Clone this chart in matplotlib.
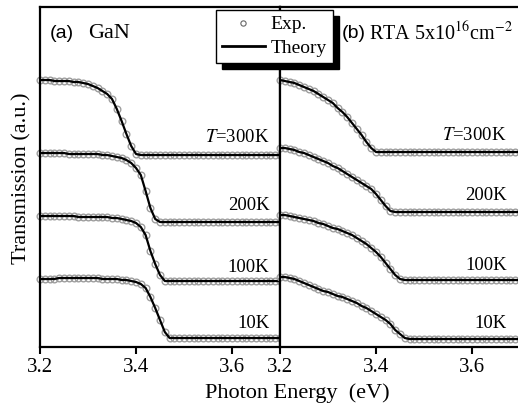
import numpy as np
import matplotlib.pyplot as plt
from matplotlib.lines import Line2D

plt.rcParams['font.family'] = 'Liberation Serif'
plt.rcParams['mathtext.fontset'] = 'stix'

# photon energy grid (eV), 3.20 ... 3.70
energy = np.round(np.arange(3.20, 3.705, 0.01), 2)

# (a) GaN transmission, offset per temperature
gan_300k = [26.7, 26.7, 26.7, 26.6, 26.6, 26.6, 26.6, 26.5, 26.5, 26.4, 26.3,
            26.1, 25.9, 25.6, 25.3, 24.8, 23.8, 22.6, 21.3, 20.1, 19.3] + [19.2] * 30
gan_200k = [19.4, 19.4, 19.4, 19.4, 19.4, 19.4, 19.3, 19.3, 19.3, 19.3, 19.3,
            19.3, 19.3, 19.2, 19.2, 19.1, 19.0, 18.9, 18.7, 18.4, 17.9, 17.2,
            15.6, 13.9, 12.8] + [12.5] * 26
gan_100k = [13.1, 13.1, 13.1, 13.1, 13.1, 13.1, 13.1, 13.1, 13.0, 13.0, 13.0,
            13.0, 13.0, 13.0, 13.0, 12.9, 12.9, 12.8, 12.7, 12.6, 12.4, 12.0,
            11.2, 9.6, 8.3, 7.2] + [6.6] * 25
gan_10k = [6.8, 6.8, 6.8, 6.8, 6.9, 6.9, 6.9, 6.9, 6.9, 6.9, 6.9, 6.9, 6.9,
           6.8, 6.8, 6.8, 6.8, 6.7, 6.7, 6.6, 6.5, 6.3, 5.9, 5.0, 3.9, 2.7,
           1.5] + [0.9] * 24

# (b) RTA 5x10^16 cm^-2
rta_300k = [26.7, 26.6, 26.5, 26.4, 26.2, 26.0, 25.8, 25.6, 25.3, 25.0, 24.7,
            24.4, 23.9, 23.5, 23.0, 22.4, 21.8, 21.2, 20.5, 19.9, 19.5] + [19.5] * 30
rta_200k = [19.9, 19.9, 19.8, 19.7, 19.5, 19.4, 19.2, 19.0, 18.8, 18.6, 18.4,
            18.1, 17.9, 17.6, 17.3, 17.0, 16.7, 16.4, 16.1, 15.8, 15.3, 14.7,
            14.1, 13.6] + [13.5] * 27
rta_100k = [13.2, 13.2, 13.1, 13.0, 12.9, 12.8, 12.7, 12.6, 12.4, 12.3, 12.1,
            11.9, 11.8, 11.6, 11.4, 11.2, 10.9, 10.6, 10.3, 9.9, 9.5, 9.0,
            8.4, 7.8, 7.2, 6.8] + [6.7] * 25
rta_10k = [7.0, 7.0, 6.9, 6.8, 6.6, 6.4, 6.2, 6.0, 5.8, 5.6, 5.5, 5.3, 5.1,
           5.0, 4.8, 4.6, 4.4, 4.1, 3.9, 3.6, 3.3, 3.0, 2.7, 2.3, 1.7, 1.3,
           0.9] + [0.8] * 24

temp_labels = ['$T$=300K', '200K', '100K', '10K']
gan_label_y = [20.5, 13.7, 7.5, 1.9]
rta_label_y = [20.7, 14.7, 7.7, 1.9]

W, H = 518, 411
fig = plt.figure(figsize=(W / 100, H / 100), dpi=100)
ax_a = fig.add_axes([40 / W, 64 / H, 240 / W, 340 / H])
ax_b = fig.add_axes([280 / W, 64 / H, 240 / W, 340 / H])

panels = [
    (ax_a, [gan_300k, gan_200k, gan_100k, gan_10k], gan_label_y, 3.678),
    (ax_b, [rta_300k, rta_200k, rta_100k, rta_10k], rta_label_y, 3.672),
]
for ax, curves, label_y, label_x in panels:
    for vals, lab, ly in zip(curves, temp_labels, label_y):
        ax.plot(energy, vals, 'o', ms=4.8, mfc='none', mec='0.62', mew=1.0,
                clip_on=False, zorder=2)
        ax.plot(energy, vals, '-', color='k', lw=1.6, zorder=3)
        ax.text(label_x, ly, lab, ha='right', va='baseline', fontsize=13.5)
    ax.set_xlim(3.2, 3.7)
    ax.set_ylim(0, 34)
    ax.set_xticks([3.2, 3.4, 3.6])
    ax.set_yticks([])
    ax.tick_params(axis='x', direction='out', length=5, width=1.5,
                   labelsize=15, pad=3)
    for s in ax.spines.values():
        s.set_linewidth(1.6)

# panel titles
fig.text(50 / W, 1 - 33 / H, '(a)', family='Liberation Sans', fontsize=14,
         va='center')
fig.text(88 / W, 1 - 33 / H, 'GaN', fontsize=16, va='center')
fig.text(342 / W, 1 - 33 / H, '(b)', family='Liberation Sans', fontsize=14,
         va='center')
fig.text(369 / W, 1 - 33 / H, 'RTA 5x10$^{16}$cm$^{-2}$', fontsize=14.5,
         va='center')

fig.text(297 / W, 1 - 393 / H, 'Photon Energy  (eV)', ha='center',
         va='center', fontsize=16)
fig.text(22 / W, 1 - 178 / H, 'Transmission (a.u.)', ha='center',
         va='center', rotation=90, fontsize=16)

handles = [Line2D([], [], ls='none', marker='o', ms=3.8, mfc='none',
                  mec='0.4', mew=0.8),
           Line2D([], [], color='k', lw=2)]
fig.legend(handles, ['Exp.', 'Theory'], loc='upper left',
           bbox_to_anchor=(216 / W, 1 - 10 / H), fontsize=14,
           fancybox=False, edgecolor='k', framealpha=1,
           shadow={'ox': 4.5, 'oy': -4.5, 'color': 'k', 'alpha': 1},
           borderpad=0.3, handlelength=2.2, handletextpad=0.3,
           labelspacing=0.3, borderaxespad=0)

fig.savefig('out.png', dpi=100)
